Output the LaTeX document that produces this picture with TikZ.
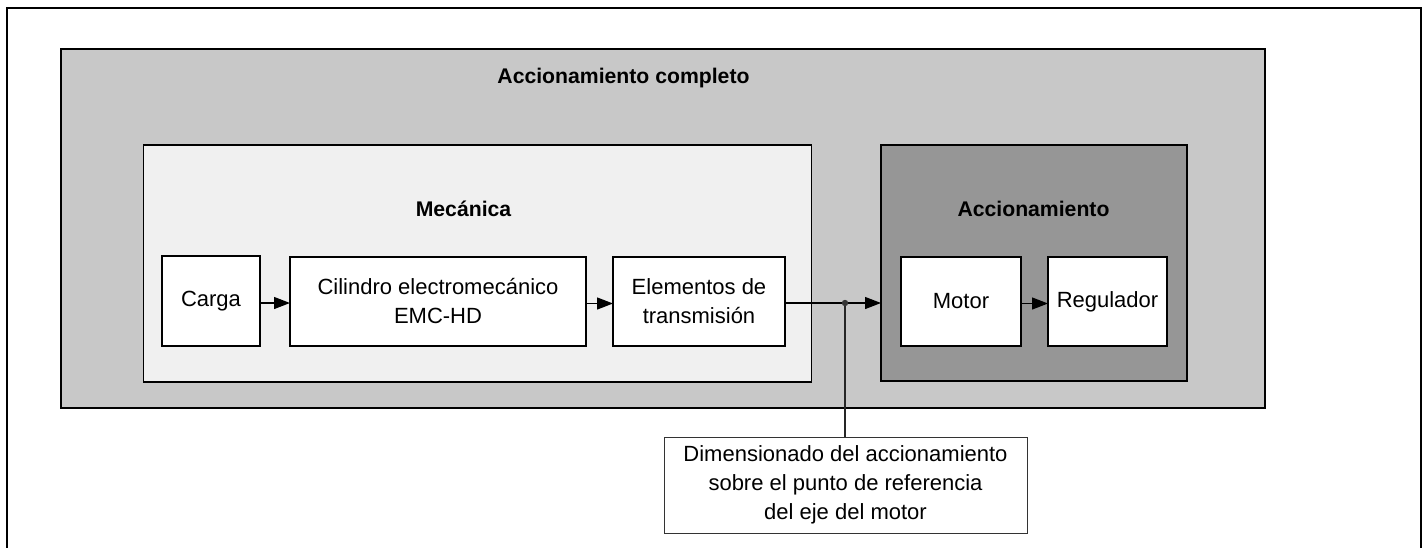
\documentclass[tikz,border=0pt]{standalone}
\usepackage{fontspec}
\setmainfont{Liberation Sans}
\usetikzlibrary{arrows.meta,calc}
\definecolor{cOuter}{HTML}{C8C8C8}
\definecolor{cMech}{HTML}{F0F0F0}
\definecolor{cDrive}{HTML}{969696}
\begin{document}
\begin{tikzpicture}[x=1pt,y=-1pt,
  font=\fontsize{22}{29}\selectfont,
  panel/.style={draw=black,line width=1.5pt,inner sep=0pt,outer sep=0pt},
  blockbox/.style={draw=black,fill=white,line width=1.5pt,inner sep=0pt,outer sep=0pt,align=center},
  title/.style={font=\fontsize{21.2}{24}\selectfont\bfseries,inner sep=0pt},
  flow/.style={line width=1.3pt,-{Triangle[length=16pt,width=12pt]}},
  link/.style={line width=1.3pt,draw=black!85}]
\useasboundingbox (0,0) rectangle (1425,547);
\begin{scope}
\clip (0,0) rectangle (1425,547);
\draw[line width=2pt] (7,560) -- (7,8) -- (1420.5,8) -- (1420.5,560);
\end{scope}
% panels
\node[panel,fill=cOuter,minimum width=1204pt,minimum height=359pt] (full) at (663,228.5) {};
\node[panel,fill=cMech,minimum width=668pt,minimum height=237pt] (mech) at (477.5,263.5) {};
\node[panel,fill=cDrive,minimum width=306pt,minimum height=236pt] (drive) at (1034,263) {};
% titles
\node[title] (tfull) at (623.5,78) {Accionamiento completo};
\node[title] (tmech) at (463.5,209) {Mecánica};
\node[title] (tdrive) at (1033.5,209) {Accionamiento};
% blocks
\node[blockbox,minimum width=98pt,minimum height=90pt] (carga) at (211,301) {Carga};
\node[blockbox,minimum width=296pt,minimum height=89pt] (cyl) at (438,301.5) {Cilindro electromecánico\\EMC-HD};
\node[blockbox,minimum width=172pt,minimum height=89pt] (elem) at (699,301.5) {Elementos de\\transmisión};
\node[blockbox,minimum width=120pt,minimum height=89pt] (motor) at (961,301.5) {Motor};
\node[blockbox,minimum width=119pt,minimum height=89pt] (reg) at (1107.5,301.5) {Regulador};
% note
\node[blockbox,line width=1pt,draw=black!80,minimum width=363pt,minimum height=96pt] (note) at (845.5,485) {Dimensionado del accionamiento\\sobre el punto de referencia\\del eje del motor};
% connectors
\coordinate (dot) at (845,303);
\draw[flow] ([yshift=-2pt]carga.east) -- ([yshift=-2pt]carga.east -| cyl.west);
\draw[flow] ([yshift=-2pt]cyl.east) -- ([yshift=-2pt]cyl.east -| elem.west);
\draw[flow] (elem.east |- dot) -- (dot -| drive.west);
\draw[flow] ([yshift=-2pt]motor.east) -- ([yshift=-2pt]motor.east -| reg.west);
\draw[link] (dot) -- (note.north -| dot);
\fill[black!80] (dot) circle (3.2pt);
\end{tikzpicture}
\end{document}
